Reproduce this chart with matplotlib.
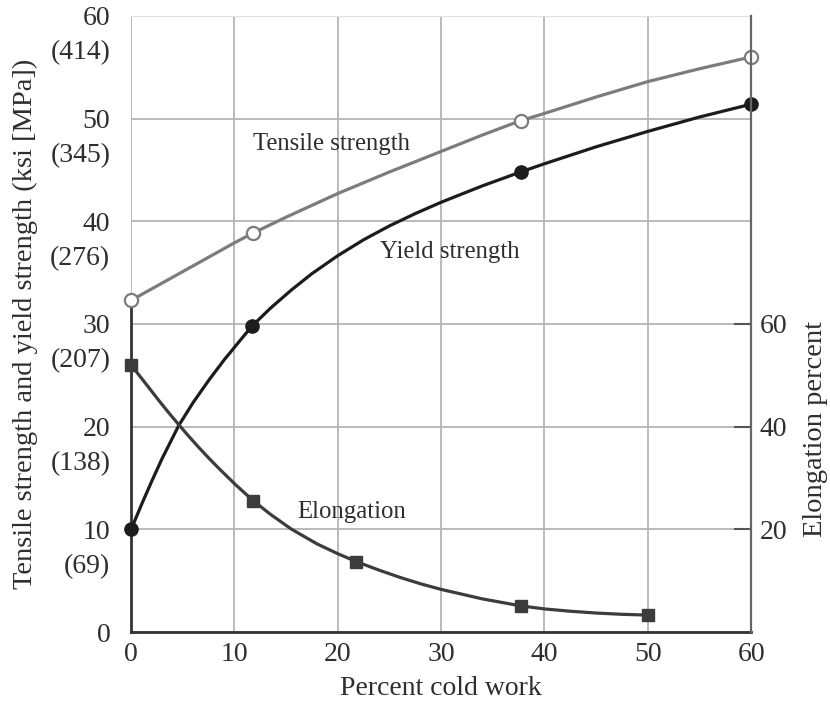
import matplotlib
matplotlib.use("Agg")
import matplotlib.pyplot as plt

plt.rcParams['font.family'] = ['Liberation Serif', 'DejaVu Serif']

# measured points (markers)
cw_tensile = [0, 11.8, 37.7, 60]
tensile_ksi = [32.3, 38.85, 49.8, 56.0]
cw_yield = [0, 11.7, 37.7, 60]
yield_ksi = [10.0, 29.8, 44.8, 51.4]
cw_elong = [0, 11.8, 21.8, 37.7, 50]
elong_pct = [52.0, 25.6, 13.7, 5.1, 3.3]

# curves
tensile_curve_x = [0, 5, 10, 11.8, 15, 20, 25, 30, 34, 37.7, 40, 45, 50, 55, 60]
tensile_curve_y = [32.3, 35.1, 37.9, 38.85, 40.4, 42.7, 44.8, 46.8, 48.4, 49.8, 50.5, 52.1, 53.6, 54.85, 56.0]
yield_curve_x = [0, 1, 2, 3, 4.6, 6, 7.5, 9, 10.1, 11.7, 13.5, 15.5, 17.5, 20, 22.5,
                 25, 27.5, 30, 34, 37.7, 40, 45, 50, 55, 60]
yield_curve_y = [10.0, 12.4, 14.7, 16.9, 20.1, 22.35, 24.5, 26.5, 27.85, 29.8, 31.55, 33.3, 34.9, 36.65, 38.2,
                 39.55, 40.75, 41.85, 43.45, 44.8, 45.6, 47.25, 48.75, 50.15, 51.4]
elong_curve_x = [0, 1.4, 2.7, 3.6, 4.6, 5.5, 6.5, 7.5, 8.5, 10.1, 11.8, 13.5, 15.5, 18, 20, 21.8,
                 24, 26, 28, 30, 34, 37.7, 40, 42.5, 45, 47.5, 50]
elong_curve_y = [52.0, 48.4, 45.05, 42.8, 40.4, 38.3, 36.05, 33.9, 31.85, 28.7, 25.6, 22.9, 20.05, 17.15, 15.25, 13.7,
                 12.05, 10.65, 9.4, 8.3, 6.45, 5.1, 4.5, 4.05, 3.7, 3.45, 3.3]

# axis ticks
x_ticks = [0, 10, 20, 30, 40, 50, 60]
ksi_ticks = [0, 10, 20, 30, 40, 50, 60]
mpa_labels = ['(69)', '(138)', '(207)', '(276)', '(345)', '(414)']
elong_ticks = [20, 40, 60]

txt = '#2e2e2e'
fig = plt.figure(figsize=(8.3, 7.05), dpi=100)
ax = fig.add_axes([0.158, 0.1035, 0.747, 0.874])

ax.set_xlim(0, 60)
ax.set_ylim(0, 60)
ax.set_xticks(x_ticks)
ax.set_yticks(ksi_ticks)
ax.set_yticklabels([str(v) for v in ksi_ticks])
ax.set_yticks([v - 3.3 for v in ksi_ticks[1:]], minor=True)
ax.set_yticklabels(mpa_labels, minor=True)
ax.tick_params(axis='y', which='both', length=0, pad=15, labelsize=20, labelcolor=txt)
ax.tick_params(axis='x', length=0, pad=7, labelsize=20, labelcolor=txt)
ax.grid(True, which='major', color='#b4b4b4', lw=1.3)
ax.set_axisbelow(True)

ax.spines['top'].set_color('#e2e2e2')
ax.spines['bottom'].set_color('#333333')
ax.spines['bottom'].set_linewidth(2)
ax.spines['left'].set_color('#333333')
ax.spines['left'].set_linewidth(2)
ax.spines['left'].set_bounds(0, tensile_ksi[0])
ax.spines['right'].set_visible(False)

# tensile
ax.plot(tensile_curve_x, tensile_curve_y, color='#7c7c7c', lw=2.3, zorder=3)
ax.plot(cw_tensile, tensile_ksi, 'o', ms=9.5, mfc='white', mec='#7c7c7c', mew=1.6, zorder=4, clip_on=False)
# yield
ax.plot(yield_curve_x, yield_curve_y, color='#1c1c1c', lw=2.3, zorder=3)
ax.plot(cw_yield, yield_ksi, 'o', ms=9.5, color='#1c1c1c', zorder=4, clip_on=False)

ax.text(11.8, 47.5, 'Tensile strength', fontsize=17.8, color=txt, ha='left', va='center')
ax.text(24.1, 37.0, 'Yield strength', fontsize=17.8, color=txt, ha='left', va='center')
ax.text(16.1, 11.7, 'Elongation', fontsize=17.8, color=txt, ha='left', va='center')

ax.set_xlabel('Percent cold work', fontsize=20, color=txt)
ax.xaxis.set_label_coords(0.5, -0.072)
ax.set_ylabel('Tensile strength and yield strength (ksi [MPa])', fontsize=20.5, color=txt)
ax.yaxis.set_label_coords(-0.151, 0.5)

# elongation on right axis
ax2 = ax.twinx()
ax2.set_ylim(0, 120)
ax2.set_yticks(elong_ticks)
ax2.tick_params(axis='y', direction='in', length=12, width=1.5, color='#555555',
                pad=6, labelsize=20, labelcolor=txt)
for s in ['top', 'left', 'bottom']:
    ax2.spines[s].set_visible(False)
ax2.spines['right'].set_color('#666666')
ax2.spines['right'].set_linewidth(1.6)
ax2.plot(elong_curve_x, elong_curve_y, color='#3c3c3c', lw=2.3, zorder=3)
ax2.plot(cw_elong, elong_pct, 's', ms=8.5, color='#3c3c3c', zorder=4, clip_on=False)
ax2.set_ylabel('Elongation percent', fontsize=20.5, color=txt)
ax2.yaxis.set_label_coords(1.084, 0.33)

fig.savefig('out.png', dpi=100)
